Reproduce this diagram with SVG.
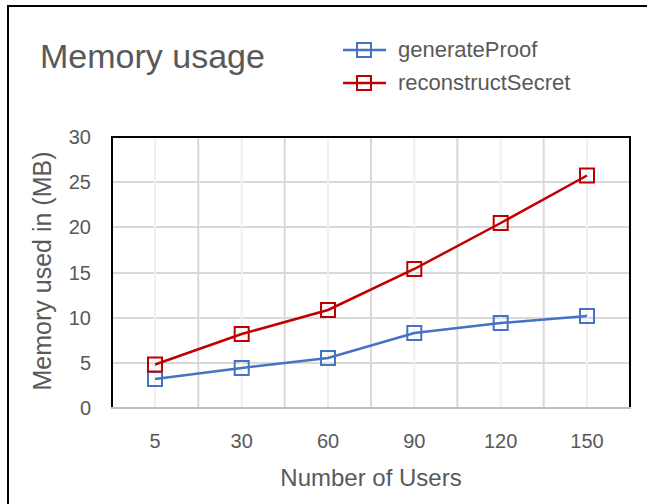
<svg xmlns="http://www.w3.org/2000/svg" width="647" height="504" viewBox="0 0 647 504">
<style>
text{font-family:"Liberation Sans",Arial,sans-serif;fill:#595959}
.tick{font-size:20px}
.ytick{text-anchor:end}
.xtick{text-anchor:middle}
.hg{stroke:#d9d9d9;stroke-width:2}
.vmaj{stroke:#d9d9d9;stroke-width:2}
.vmin{stroke:#f0f0f0;stroke-width:2}
.blue{stroke:#4472C4;stroke-width:2.5;fill:none}
.red{stroke:#C00000;stroke-width:2.5;fill:none}
.mb{stroke:#4472C4;stroke-width:2;fill:none}
.mr{stroke:#C00000;stroke-width:2;fill:none}
</style>
<defs>
<rect id="sq" x="-7" y="-7" width="14" height="14"/>
</defs>
<rect width="647" height="504" fill="#fff"/>
<rect x="8" y="6" width="700" height="600" fill="none" stroke="#000" stroke-width="2"/>
<g id="title"><text x="40" y="68" style="font-size:34px">Memory usage</text></g>
<g id="legend">
<line x1="343" y1="50" x2="386" y2="50" class="blue"/><use href="#sq" x="364" y="50" class="mb"/>
<text x="398" y="57" style="font-size:22px">generateProof</text>
<line x1="343" y1="83" x2="386" y2="83" class="red"/><use href="#sq" x="364" y="83" class="mr"/>
<text x="398" y="90" style="font-size:22px">reconstructSecret</text>
</g>
<g id="grid">
<line x1="112" y1="182" x2="630" y2="182" class="hg"/>
<line x1="112" y1="227" x2="630" y2="227" class="hg"/>
<line x1="112" y1="273" x2="630" y2="273" class="hg"/>
<line x1="112" y1="318" x2="630" y2="318" class="hg"/>
<line x1="112" y1="363" x2="630" y2="363" class="hg"/>
<line x1="155" y1="137" x2="155" y2="408" class="vmin"/>
<line x1="241.7" y1="137" x2="241.7" y2="408" class="vmin"/>
<line x1="328" y1="137" x2="328" y2="408" class="vmin"/>
<line x1="414.3" y1="137" x2="414.3" y2="408" class="vmin"/>
<line x1="500.7" y1="137" x2="500.7" y2="408" class="vmin"/>
<line x1="587" y1="137" x2="587" y2="408" class="vmin"/>
<line x1="198.3" y1="137" x2="198.3" y2="408" class="vmaj"/>
<line x1="284.7" y1="137" x2="284.7" y2="408" class="vmaj"/>
<line x1="371" y1="137" x2="371" y2="408" class="vmaj"/>
<line x1="457.3" y1="137" x2="457.3" y2="408" class="vmaj"/>
<line x1="543.7" y1="137" x2="543.7" y2="408" class="vmaj"/>
</g>
<g id="plot-frame">
<rect x="112" y="137" width="518" height="271" fill="none" stroke="#000" stroke-width="2"/>
<line x1="111" y1="408" x2="631" y2="408" stroke="#bfbfbf" stroke-width="2"/>
</g>
<g id="connectors">
<polyline class="blue" points="155,379 241.7,368 328,358 414.3,333 500.7,323 587,316"/>
<polyline class="red" points="155,364.5 241.7,334 328,310 414.3,269 500.7,223 587,175.5"/>
</g>
<g id="series-generateProof">
<use href="#sq" x="155" y="379" class="mb"/>
<use href="#sq" x="241.7" y="368" class="mb"/>
<use href="#sq" x="328" y="358" class="mb"/>
<use href="#sq" x="414.3" y="333" class="mb"/>
<use href="#sq" x="500.7" y="323" class="mb"/>
<use href="#sq" x="587" y="316" class="mb"/>
</g>
<g id="series-reconstructSecret">
<use href="#sq" x="155" y="364.5" class="mr"/>
<use href="#sq" x="241.7" y="334" class="mr"/>
<use href="#sq" x="328" y="310" class="mr"/>
<use href="#sq" x="414.3" y="269" class="mr"/>
<use href="#sq" x="500.7" y="223" class="mr"/>
<use href="#sq" x="587" y="175.5" class="mr"/>
</g>
<g id="y-axis">
<text x="91" y="144" class="tick ytick">30</text>
<text x="91" y="189" class="tick ytick">25</text>
<text x="91" y="234" class="tick ytick">20</text>
<text x="91" y="280" class="tick ytick">15</text>
<text x="91" y="325" class="tick ytick">10</text>
<text x="91" y="370" class="tick ytick">5</text>
<text x="91" y="415" class="tick ytick">0</text>
<text transform="translate(51,271) rotate(-90)" text-anchor="middle" style="font-size:25px">Memory used in (MB)</text>
</g>
<g id="x-axis">
<text x="155" y="448" class="tick xtick">5</text>
<text x="241.7" y="448" class="tick xtick">30</text>
<text x="328" y="448" class="tick xtick">60</text>
<text x="414.3" y="448" class="tick xtick">90</text>
<text x="500.7" y="448" class="tick xtick">120</text>
<text x="587" y="448" class="tick xtick">150</text>
<text x="371" y="486" text-anchor="middle" style="font-size:24px">Number of Users</text>
</g>
</svg>
